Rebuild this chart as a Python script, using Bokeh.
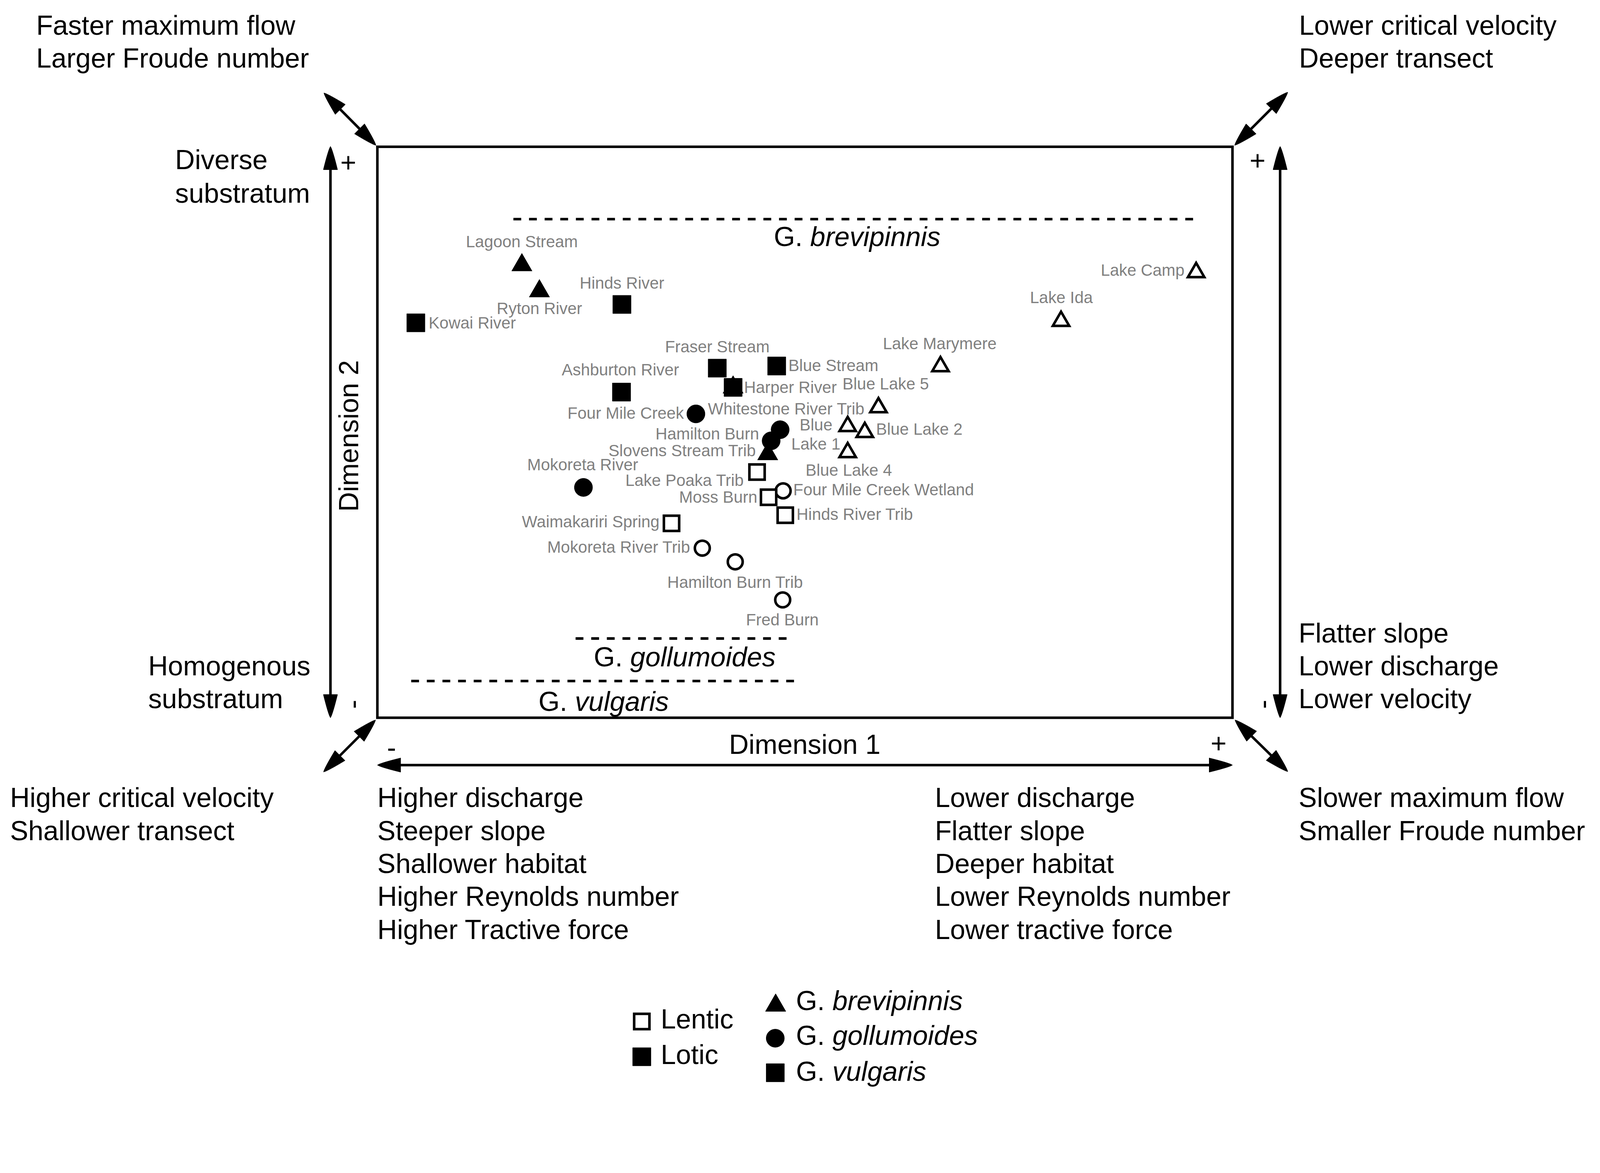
import math
import numpy as np
from bokeh.plotting import figure
from bokeh.models import Range1d, ColumnDataSource
from bokeh.core.properties import value
from bokeh.embed import file_html
from bokeh.resources import INLINE

# ---------------- data: NMDS site scores ----------------
site_names = ["Lagoon Stream", "Ryton River", "Hinds River", "Kowai River", "Fraser Stream",
              "Blue Stream", "Harper River", "Harper River", "Ashburton River", "Four Mile Creek",
              "Whitestone River Trib", "Hamilton Burn", "Slovens Stream Trib", "Mokoreta River",
              "Lake Poaka Trib", "Four Mile Creek Wetland", "Moss Burn", "Hinds River Trib",
              "Waimakariri Spring", "Mokoreta River Trib", "Hamilton Burn Trib", "Fred Burn",
              "Lake Camp", "Lake Ida", "Lake Marymere", "Blue Lake 5", "Blue Lake 1",
              "Blue Lake 2", "Blue Lake 4"]
dim1 = [-0.662, -0.621, -0.428, -0.910, -0.205, -0.066, -0.168, -0.168, -0.429, -0.255,
        -0.058, -0.079, -0.087, -0.518, -0.112, -0.051, -0.085, -0.046, -0.312, -0.240,
        -0.163, -0.052, 0.915, 0.599, 0.317, 0.172, 0.100, 0.140, 0.100]
dim2 = [0.391, 0.330, 0.299, 0.256, 0.150, 0.155, 0.105, 0.105, 0.094, 0.043,
        0.006, -0.020, -0.051, -0.129, -0.093, -0.137, -0.152, -0.194, -0.213, -0.271,
        -0.303, -0.392, 0.374, 0.260, 0.154, 0.058, 0.014, 0.000, -0.047]
habitat = ["Lotic"] * 14 + ["Lentic"] * 15
species = ["brevipinnis", "brevipinnis", "vulgaris", "vulgaris", "vulgaris", "vulgaris",
           "brevipinnis", "vulgaris", "vulgaris", "gollumoides", "gollumoides", "gollumoides",
           "brevipinnis", "gollumoides",
           "vulgaris", "gollumoides", "vulgaris", "vulgaris", "vulgaris", "gollumoides",
           "gollumoides", "gollumoides",
           "brevipinnis", "brevipinnis", "brevipinnis", "brevipinnis", "brevipinnis",
           "brevipinnis", "brevipinnis"]

species_order = ["brevipinnis", "gollumoides", "vulgaris"]
habitat_order = ["Lentic", "Lotic"]

top_left_text = ["Faster maximum flow", "Larger Froude number"]
top_right_text = ["Lower critical velocity", "Deeper transect"]
bottom_left_corner = ["Higher critical velocity", "Shallower transect"]
bottom_right_corner = ["Slower maximum flow", "Smaller Froude number"]
dim1_neg_text = ["Higher discharge", "Steeper slope", "Shallower habitat",
                 "Higher Reynolds number", "Higher Tractive force"]
dim1_pos_text = ["Lower discharge", "Flatter slope", "Deeper habitat",
                 "Lower Reynolds number", "Lower tractive force"]
dim2_pos_text = ["Diverse", "substratum"]
dim2_neg_text = ["Homogenous", "substratum"]
dim2_neg_right = ["Flatter slope", "Lower discharge", "Lower velocity"]

# label layout: text, site index, alignment, dx, dy (reference px, down positive)
site_labels = [
    ("Lagoon Stream", 0, "center", 0, -65),
    ("Ryton River", 1, "center", 0, 47),
    ("Hinds River", 2, "center", 0, -59),
    ("Kowai River", 3, "left", 35, 0),
    ("Fraser Stream", 4, "center", 0, -59),
    ("Blue Stream", 5, "left", 32, -2),
    ("Harper River", 7, "left", 30, 0),
    ("Ashburton River", 8, "center", -3, -61),
    ("Four Mile Creek", 9, "right", -33, -2),
    ("Whitestone River Trib", 10, "center", 17, -58),
    ("Hamilton Burn", 11, "right", -33, -19),
    ("Slovens Stream Trib", 12, "right", -32, -10),
    ("Mokoreta River", 13, "center", -2, -63),
    ("Lake Poaka Trib", 14, "right", -36, 23),
    ("Four Mile Creek Wetland", 15, "left", 28, -3),
    ("Moss Burn", 16, "right", -31, -1),
    ("Hinds River Trib", 17, "left", 31, -3),
    ("Waimakariri Spring", 18, "right", -33, -5),
    ("Mokoreta River Trib", 19, "right", -33, -3),
    ("Hamilton Burn Trib", 20, "center", 0, 56),
    ("Fred Burn", 21, "center", -1, 55),
    ("Lake Camp", 22, "right", -32, -6),
    ("Lake Ida", 23, "center", 1, -65),
    ("Lake Marymere", 24, "center", -2, -63),
    ("Blue Lake 5", 25, "center", 20, -65),
    ("Blue", 26, "right", -42, -4),
    ("Lake 1", 26, "right", -20, 49),
    ("Blue Lake 2", 27, "left", 31, -9),
    ("Blue Lake 4", 28, "center", 3, 49),
]

# ---------------- geometry ----------------
S = 4096.0 / 4399.0          # CSS px per screenshot px
Wc, Hc = 4080, 2900          # figure size in CSS px
M0 = 0.0                     # figure origin in screenshot px
PX = 1175.5                  # screenshot px per NMDS unit
CX, CY = 2212.5, 1188.0


def X(px):
    return (px - CX) / PX


def Y(py):
    return (CY - py) / PX


def fs(px):
    return f"{px * S:.1f}px"


FONT = value("Liberation Sans")
BIG = 75
LW = 7 * S

p = figure(width=Wc, height=Hc,
           x_range=Range1d(X(M0), X(M0 + Wc / S)), y_range=Range1d(Y(M0 + Hc / S), Y(M0)),
           output_backend="svg", toolbar_location=None, min_border=0,
           x_axis_location=None, y_axis_location=None)
p.grid.visible = False
p.outline_line_color = None
p.background_fill_color = "white"
p.border_fill_color = "white"


def txt(s, px, py, size=BIG, align="left", style="normal", color="black", angle=0.0):
    # py is the vertical centre of the capital letters
    p.text(x=[X(px)], y=[Y(py)], text=[s], text_font=FONT, text_font_size=fs(size),
           text_align=align, text_baseline="middle", text_font_style=style,
           text_color=color, angle=angle)


HL, HW = 64, 19.5


def arrow(x0, y0, x1, y1):
    dx, dy = x1 - x0, y1 - y0
    d = math.hypot(dx, dy)
    ux, uy = dx / d, dy / d
    p.line([X(x0 + ux * HL * 0.5), X(x1 - ux * HL * 0.5)],
           [Y(y0 + uy * HL * 0.5), Y(y1 - uy * HL * 0.5)], line_width=LW, line_color="black")
    for tx, ty, vx, vy in ((x1, y1, ux, uy), (x0, y0, -ux, -uy)):
        wx, wy = -vy, vx
        ts = np.linspace(0, 1, 16)
        side_a = [(tx - vx * HL * t + wx * HW * t ** 0.8, ty - vy * HL * t + wy * HW * t ** 0.8) for t in ts]
        side_b = [(tx - vx * HL * t - wx * HW * t ** 0.8, ty - vy * HL * t - wy * HW * t ** 0.8) for t in ts[::-1]]
        pts = side_a + side_b
        p.patch([X(a) for a, _ in pts], [Y(b) for _, b in pts],
                fill_color="black", line_color="black", line_width=1)


# frame box
p.quad(left=[X(1037)], right=[X(3388)], top=[Y(403)], bottom=[Y(1973)],
       fill_color=None, line_color="black", line_width=LW, line_join="miter")

# arrows
arrow(908, 1973, 908, 402)
arrow(3519, 1973, 3519, 402)
arrow(1037, 2103, 3388, 2103)
arrow(1033, 399, 890, 255)
arrow(3394, 399, 3540, 253)
arrow(1032, 1979, 889, 2122)
arrow(3395, 1979, 3540, 2121)

# species range dashed lines
dash_lines = [(1411, 3294, 602), (1582, 2171, 1755), (1130, 2193, 1872)]
for xa, xb, yy in dash_lines:
    p.line([X(xa), X(xb)], [Y(yy), Y(yy)], line_width=LW, line_color="black",
           line_dash="20 20", line_cap="butt")


def species_label(name, left_px, mid_px):
    txt("G.", left_px, mid_px)
    txt(name, left_px + 100, mid_px, style="italic")


species_label("brevipinnis", 2127, 650)
species_label("gollumoides", 1632, 1806)
species_label("vulgaris", 1480, 1928)

# ---------------- points ----------------
marker_of = {"brevipinnis": "triangle", "gollumoides": "circle", "vulgaris": "square"}
style = {
    ("triangle", "Lotic"): dict(size=56 * S, fill_color="black", line_color="black", line_width=1),
    ("circle", "Lotic"): dict(size=50 * S, fill_color="black", line_color="black", line_width=1),
    ("square", "Lotic"): dict(size=50 * S, fill_color="black", line_color="black", line_width=1),
    ("triangle", "Lentic"): dict(size=45 * S, fill_color="white", line_color="black", line_width=LW,
                                 line_join="miter"),
    ("circle", "Lentic"): dict(size=41 * S, fill_color="white", line_color="black", line_width=LW),
    ("square", "Lentic"): dict(size=42 * S, fill_color="white", line_color="black", line_width=LW,
                               line_join="miter"),
}

for sp in species_order:
    for hb in habitat_order:
        idx = [i for i in range(len(site_names)) if species[i] == sp and habitat[i] == hb]
        if not idx:
            continue
        src = ColumnDataSource(dict(x=[dim1[i] for i in idx], y=[dim2[i] for i in idx],
                                    name=[site_names[i] for i in idx]))
        mk = marker_of[sp]
        p.scatter("x", "y", source=src, marker=mk, **style[(mk, hb)])

# site labels
for align in ("left", "right", "center"):
    sel = [l for l in site_labels if l[2] == align]
    lx = [dim1[l[1]] + l[3] / PX for l in sel]
    ly = [dim2[l[1]] - l[4] / PX for l in sel]
    p.text(x=lx, y=ly, text=[l[0] for l in sel], text_font=FONT, text_font_size=fs(45),
           text_color="#808080", text_align=align, text_baseline="middle")

# ---------------- outer annotation texts (cap centres) ----------------
for i, s in enumerate(top_left_text):
    txt(s, 99, 69 + 90 * i)
for i, s in enumerate(top_right_text):
    txt(s, 3571, 69 + 90 * i)
for i, s in enumerate(dim2_pos_text):
    txt(s, 481, 439 + 92 * i)
for i, s in enumerate(dim2_neg_text):
    txt(s, 407, 1831 + 90 * i)
for i, s in enumerate(dim2_neg_right):
    txt(s, 3570, 1740 + 90.5 * i)
for i, s in enumerate(bottom_left_corner):
    txt(s, 27, 2193 + 91 * i)
for i, s in enumerate(bottom_right_corner):
    txt(s, 3570, 2193 + 91 * i)
for i, s in enumerate(dim1_neg_text):
    txt(s, 1037, 2193 + 90.5 * i)
for i, s in enumerate(dim1_pos_text):
    txt(s, 2570, 2193 + 90.5 * i)

txt("Dimension 1", 2212, 2046, align="center")
txt("Dimension 2", 958, 1198, align="center", angle=math.pi / 2)

# +/- signs
txt("+", 957, 446, align="center")
txt("+", 3457, 440, align="center")
txt("+", 3350, 2043, align="center")
txt("-", 1076, 2055, align="center")
txt("-", 969, 1936, align="center", angle=math.pi / 2)
txt("-", 3471, 1936, align="center", angle=math.pi / 2)

# ---------------- legend ----------------
p.scatter([X(1764)], [Y(2808)], marker="square", **style[("square", "Lentic")])
p.scatter([X(1764)], [Y(2905)], marker="square", **style[("square", "Lotic")])
txt("Lentic", 1816, 2801)
txt("Lotic", 1816, 2899)
p.scatter([X(2132)], [Y(2764)], marker="triangle", **style[("triangle", "Lotic")])
p.scatter([X(2131)], [Y(2854)], marker="circle", **style[("circle", "Lotic")])
p.scatter([X(2131)], [Y(2949)], marker="square", **style[("square", "Lotic")])
species_label("brevipinnis", 2188, 2751)
species_label("gollumoides", 2188, 2847)
species_label("vulgaris", 2188, 2945)

open("out.html", "w").write(file_html(p, INLINE))
